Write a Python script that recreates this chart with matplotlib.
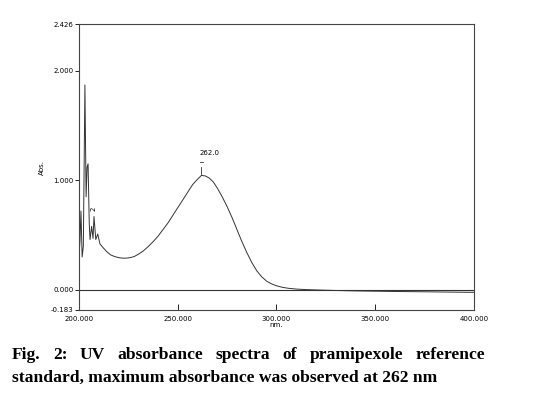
import matplotlib
matplotlib.use("Agg")
import matplotlib.pyplot as plt

# spectrum (wavelength nm, absorbance)
wavelength = [200.0, 200.5, 201.0, 201.6, 202.2, 203.0, 203.6, 204.1, 204.6,
              205.2, 205.6, 206.4, 207.1, 207.6, 208.5, 209.5, 210.6, 212.0,
              214.0, 216.0, 218.0, 220.0, 222.0, 224.0, 226.0, 228.0, 230.0,
              232.5, 235.0, 237.5, 240.0, 242.5, 245.0, 247.5, 250.0, 252.5,
              255.0, 257.5, 260.0, 262.0, 264.0, 266.0, 268.0, 270.0, 272.5,
              275.0, 277.5, 280.0, 282.5, 285.0, 287.5, 290.0, 292.5, 295.0,
              297.5, 300.0, 303.0, 306.0, 310.0, 315.0, 320.0, 330.0, 340.0,
              360.0, 380.0, 400.0]
absorbance = [0.30, 0.45, 0.72, 0.30, 0.40, 1.87, 0.85, 1.12, 1.15,
              0.60, 0.46, 0.58, 0.47, 0.67, 0.46, 0.51, 0.42, 0.39,
              0.35, 0.32, 0.305, 0.295, 0.29, 0.29, 0.295, 0.305, 0.325,
              0.355, 0.395, 0.44, 0.49, 0.55, 0.61, 0.68, 0.75, 0.82,
              0.89, 0.96, 1.01, 1.045, 1.04, 1.02, 0.985, 0.93, 0.85,
              0.76, 0.66, 0.55, 0.44, 0.34, 0.25, 0.175, 0.12, 0.08,
              0.055, 0.038, 0.024, 0.015, 0.008, 0.003, 0.0, -0.005, -0.009,
              -0.014, -0.018, -0.022]

x_ticks = [200, 250, 300, 350, 400]
x_labels = ["200.000", "250.000", "300.000", "350.000", "400.000"]
y_ticks = [-0.183, 0.0, 1.0, 2.0, 2.426]
y_labels = ["-0.183", "0.000", "1.000", "2.000", "2.426"]
peak_nm, peak_abs, peak_label = 262.0, 1.045, "262.0"
minor_nm, minor_abs, minor_label = 207.6, 0.67, "2"

caption_1 = "Fig. 2: UV absorbance spectra of pramipexole reference"
caption_2 = "standard, maximum absorbance was observed at 262 nm"

fig = plt.figure(figsize=(5.52, 3.95), dpi=100)
ax = fig.add_axes([0.1431, 0.2152, 0.7156, 0.7240])

ax.plot(wavelength, absorbance, color="#333333", lw=0.7)
ax.axhline(0.0, color="#333333", lw=0.8)

ax.set_xlim(200, 400)
ax.set_ylim(-0.183, 2.426)
ax.set_xticks(x_ticks)
ax.set_xticklabels(x_labels)
ax.set_yticks(y_ticks)
ax.set_yticklabels(y_labels)
ax.tick_params(axis="x", direction="in", length=4, width=0.6, labelsize=5, pad=4)
ax.tick_params(axis="y", direction="out", length=3, width=0.6, labelsize=5, pad=1)
for s in ax.spines.values():
    s.set_linewidth(0.8)
    s.set_color("#444444")

ax.set_xlabel("nm.", fontsize=5, labelpad=0)
ax.set_ylabel("Abs.", fontsize=5, labelpad=4)

# peak marker
ax.plot([peak_nm, peak_nm], [peak_abs + 0.01, peak_abs + 0.08], color="#333333", lw=0.6)
ax.plot([peak_nm - 0.7, peak_nm + 0.7], [peak_abs + 0.12, peak_abs + 0.12], color="#333333", lw=0.6)
ax.text(peak_nm + 4, peak_abs + 0.18, peak_label, fontsize=5, ha="center", va="bottom")
ax.text(minor_nm, minor_abs + 0.05, minor_label, fontsize=5, rotation=90,
        ha="center", va="bottom")

# justified caption, first line spread to full width
fig.canvas.draw()
renderer = fig.canvas.get_renderer()
cap_font = dict(family="Liberation Serif", weight="bold", fontsize=12.6)
x0, x1 = 12 / 552, 485 / 552
y1 = 1 - 355 / 395
words = caption_1.split()
texts = [fig.text(0, y1, w, va="center", ha="left", **cap_font) for w in words]
widths = [t.get_window_extent(renderer).width / fig.bbox.width for t in texts]
gap = (x1 - x0 - sum(widths)) / (len(words) - 1)
pos = x0
for t, w in zip(texts, widths):
    t.set_x(pos)
    pos += w + gap
fig.text(x0, 1 - 378 / 395, caption_2, va="center", ha="left", **cap_font)

fig.savefig("out.png", dpi=100)
